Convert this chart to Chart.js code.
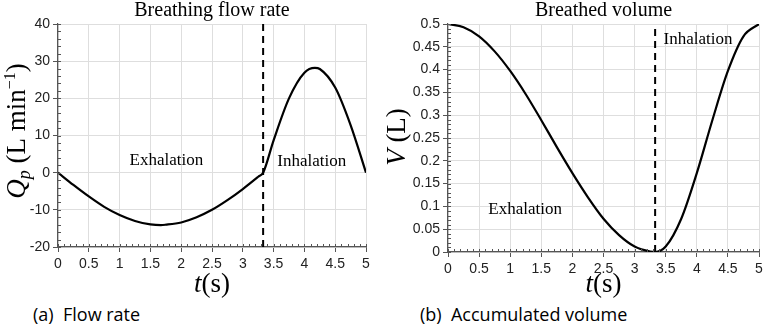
<!DOCTYPE html>
<html>
<head>
<meta charset="utf-8">
<script src="https://cdn.jsdelivr.net/npm/chart.js@4.4.1/dist/chart.umd.min.js"></script>
<style>
body{margin:0;background:#fff;width:763px;height:328px;position:relative;overflow:hidden}
canvas{position:absolute;top:0}
#flowCanvas{left:0}
#volCanvas{left:380px}
.cap{position:absolute;top:302px;font-family:"Open Sans",sans-serif;font-size:18px;color:#000;white-space:pre}
</style>
</head>
<body>
<canvas id="flowCanvas" width="380" height="300"></canvas>
<canvas id="volCanvas" width="383" height="300"></canvas>
<div class="cap" style="left:33px">(a)  Flow rate</div>
<div class="cap" style="left:420px">(b)  Accumulated volume</div>
<script>
// panel (a): breathing flow rate, L/min
var flowTime = [0, 0.25, 0.5, 0.75, 1, 1.25, 1.5, 1.67, 1.75, 2, 2.25, 2.5, 2.75, 3, 3.25, 3.33, 3.5, 3.75, 4, 4.17, 4.25, 4.5, 4.75, 5];
var flowRate = [0, -3.3, -6.4, -9.2, -11.4, -13.0, -13.9, -14.1, -14.0, -13.4, -12.0, -10.0, -7.4, -4.4, -1.1, 0, 8.7, 20.0, 26.9, 28.2, 27.9, 22.9, 12.8, 0];

// panel (b): breathed volume, L
var volTime = [0, 0.25, 0.5, 0.75, 1, 1.25, 1.5, 1.75, 2, 2.25, 2.5, 2.75, 3, 3.25, 3.33, 3.5, 3.75, 4, 4.25, 4.5, 4.75, 5];
var volume = [0.5, 0.493, 0.473, 0.440, 0.397, 0.346, 0.289, 0.230, 0.173, 0.120, 0.073, 0.037, 0.012, 0.001, 0, 0.012, 0.073, 0.173, 0.289, 0.397, 0.473, 0.5];

// end of exhalation
var switchTime = 3.33;

var flowNotes = [
    {text: 'Exhalation', x: 1.76, y: 3.2},
    {text: 'Inhalation', x: 4.12, y: 2.9}
];
var volNotes = [
    {text: 'Inhalation', x: 4.02, y: 0.465},
    {text: 'Exhalation', x: 1.24, y: 0.094}
];

var SERIF = '"Liberation Serif", "Times New Roman", serif';
var SANS = '"Liberation Sans", Arial, sans-serif';

function toPoints(xs, ys) {
    return xs.map(function(x, i) { return {x: x, y: ys[i]}; });
}

// plain numbers: 0.5, 1, 1.5 ... no trailing zeros
function plainTick(v) {
    return String(Number(v.toFixed(3)));
}

// draws a run of text pieces with their own font and vertical shift, centred on x
function drawRich(ctx, parts, x, y) {
    var w = 0;
    parts.forEach(function(p) { ctx.font = p[1]; w += ctx.measureText(p[0]).width; });
    var cx = x - w / 2;
    parts.forEach(function(p) {
        ctx.font = p[1];
        ctx.fillText(p[0], cx, y + (p[2] || 0));
        cx += ctx.measureText(p[0]).width;
    });
}

var xTitle = [
    ['t', 'italic 27px ' + SERIF],
    ['(s)', '27px ' + SERIF]
];

function panelText(cfg) {
    return {
        id: 'panelText',
        afterDraw: function(chart) {
            var ctx = chart.ctx, a = chart.chartArea;
            var sx = chart.scales.x, sy = chart.scales.y;
            ctx.save();

            // minor ticks, inside the axes
            ctx.strokeStyle = '#555';
            ctx.lineWidth = 1;
            ctx.beginPath();
            for (var i = 0; ; i++) {
                var vx = sx.min + i * cfg.minorX;
                if (vx > sx.max + 1e-9) break;
                var px = Math.round(sx.getPixelForValue(vx)) + 0.5;
                ctx.moveTo(px, a.bottom);
                ctx.lineTo(px, a.bottom - 3);
            }
            for (var j = 0; ; j++) {
                var vy = sy.min + j * cfg.minorY;
                if (vy > sy.max + 1e-9) break;
                var py = Math.round(sy.getPixelForValue(vy)) + 0.5;
                ctx.moveTo(a.left, py);
                ctx.lineTo(a.left + 3, py);
            }
            ctx.stroke();

            ctx.fillStyle = '#000';
            ctx.textAlign = 'center';
            ctx.textBaseline = 'alphabetic';
            ctx.font = '20px ' + SERIF;
            ctx.fillText(cfg.title, (a.left + a.right) / 2, 16);

            ctx.font = '17px ' + SERIF;
            ctx.textBaseline = 'middle';
            cfg.notes.forEach(function(n) {
                ctx.fillText(n.text, sx.getPixelForValue(n.x), sy.getPixelForValue(n.y));
            });

            ctx.textAlign = 'left';
            ctx.textBaseline = 'alphabetic';
            drawRich(ctx, xTitle, (a.left + a.right) / 2, 292);

            ctx.translate(25, cfg.yTitleCenter);
            ctx.rotate(-Math.PI / 2);
            drawRich(ctx, cfg.yTitle, 0, 0);
            ctx.restore();
        }
    };
}

function makePanel(id, pts, yMin, yMax, yStep, yWidth, padRight, xHeight, textCfg) {
    var ctx = document.getElementById(id).getContext('2d');
    return new Chart(ctx, {
        type: 'line',
        data: {
            datasets: [{
                data: pts,
                borderColor: '#000',
                borderWidth: 2.2,
                pointRadius: 0,
                cubicInterpolationMode: 'monotone',
                fill: false
            }, {
                data: [{x: switchTime, y: yMin}, {x: switchTime, y: yMax}],
                borderColor: '#000',
                borderWidth: 2,
                borderDash: [7, 5],
                pointRadius: 0,
                fill: false
            }]
        },
        options: {
            responsive: false,
            animation: false,
            layout: {padding: {top: 24, right: padRight, left: 0, bottom: 0}},
            plugins: {legend: {display: false}, tooltip: {enabled: false}, title: {display: false}},
            scales: {
                x: {
                    type: 'linear',
                    min: 0,
                    max: 5,
                    ticks: {stepSize: 0.5, color: '#222', padding: 4, font: {family: SANS, size: 14}, callback: plainTick},
                    grid: {color: '#dedede', lineWidth: 1, tickLength: 5, tickColor: '#555'},
                    border: {color: '#555', width: 1.2},
                    afterFit: function(s) { s.height = xHeight; s.paddingRight = 0; }
                },
                y: {
                    min: yMin,
                    max: yMax,
                    ticks: {stepSize: yStep, color: '#222', padding: 3, font: {family: SANS, size: 14}, callback: plainTick},
                    grid: {color: '#dedede', lineWidth: 1, tickLength: 5, tickColor: '#555'},
                    border: {color: '#555', width: 1.2},
                    afterFit: function(s) { s.width = yWidth; }
                }
            }
        },
        plugins: [panelText(textCfg)]
    });
}

makePanel('flowCanvas', toPoints(flowTime, flowRate), -20, 40, 10, 58, 14, 53, {
    title: 'Breathing flow rate',
    notes: flowNotes,
    minorX: 0.1,
    minorY: 2,
    yTitleCenter: 131,
    yTitle: [
        ['Q', 'italic 27px ' + SERIF],
        ['p', 'italic 18px ' + SERIF, 5],
        [' (L min', '27px ' + SERIF],
        ['\u22121', '16px ' + SERIF, -10],
        [')', '27px ' + SERIF]
    ]
});

makePanel('volCanvas', toPoints(volTime, volume), 0, 0.5, 0.05, 68, 4, 48, {
    title: 'Breathed volume',
    notes: volNotes,
    minorX: 0.1,
    minorY: 0.01,
    yTitleCenter: 137,
    yTitle: [
        ['V', 'italic 27px ' + SERIF],
        [' (L)', '27px ' + SERIF]
    ]
});
</script>
</body>
</html>
